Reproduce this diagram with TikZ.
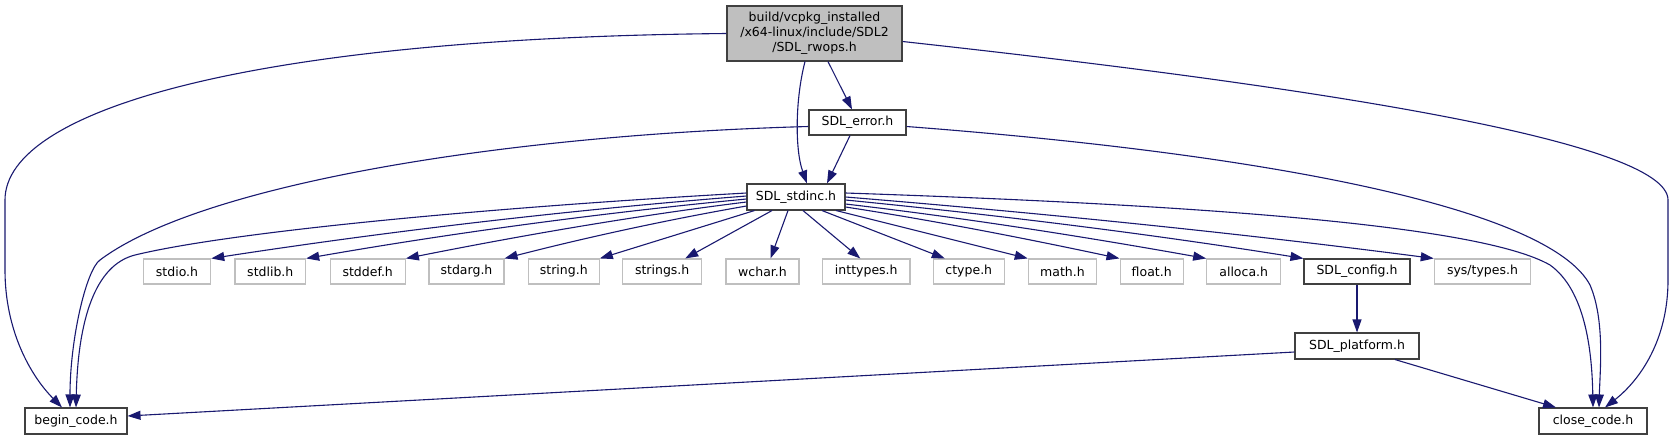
\documentclass[tikz,border=0pt]{standalone}
\usepackage{fontspec}
\setmainfont{DejaVu Sans}
\usetikzlibrary{arrows.meta,calc}
\definecolor{edgec}{HTML}{191970}
\definecolor{boxb}{HTML}{404040}
\definecolor{leafb}{HTML}{BFBFBF}
\definecolor{topfill}{HTML}{BFBFBF}
\begin{document}
\begin{tikzpicture}[x=1pt,y=-1pt,
  font=\fontsize{12.5}{15}\selectfont,
  box/.style={draw=boxb, line width=1.1pt, inner sep=0pt, minimum height=26pt, text=black},
  leaf/.style={draw=leafb, line width=1.1pt, inner sep=0pt, minimum height=25pt, text=black},
  dep/.style={draw=edgec, line width=1.1pt, -{Triangle[length=13pt,width=9pt]}}]
\fill[white] (0,0) rectangle (1675,440);
\useasboundingbox (0,0) rectangle (1675,440);

% nodes
\node[box, fill=topfill, minimum width=175pt, minimum height=55pt, align=center] (top) at (814.5,33.5)
  {build/vcpkg\_installed\\/x64-linux/include/SDL2\\/SDL\_rwops.h};
\node[box, minimum width=97pt, minimum height=25pt] (error) at (857.5,122.5) {SDL\_error.h};
\node[box, minimum width=98pt] (stdinc) at (796,197) {SDL\_stdinc.h};

\node[leaf, minimum width=67.4pt] (stdio) at (177,271.5) {stdio.h};
\node[leaf, minimum width=70.7pt] (stdlib) at (270.3,271.5) {stdlib.h};
\node[leaf, minimum width=75.3pt] (stddef) at (367.7,271.5) {stddef.h};
\node[leaf, minimum width=75pt] (stdarg) at (466.5,271.5) {stdarg.h};
\node[leaf, minimum width=71pt] (string) at (563.8,271.5) {string.h};
\node[leaf, minimum width=79pt] (strings) at (662.2,271.5) {strings.h};
\node[leaf, minimum width=73pt] (wchar) at (762.5,271.5) {wchar.h};
\node[leaf, minimum width=87.3pt] (inttypes) at (866.3,271.5) {inttypes.h};
\node[leaf, minimum width=71pt] (ctype) at (968.8,271.5) {ctype.h};
\node[leaf, minimum width=68.4pt] (math) at (1062.5,271.5) {math.h};
\node[leaf, minimum width=63.3pt] (float) at (1151.7,271.5) {float.h};
\node[leaf, minimum width=74pt] (alloca) at (1243.7,271.5) {alloca.h};
\node[box, minimum width=106pt, minimum height=25pt] (config) at (1357,271.5) {SDL\_config.h};
\node[leaf, minimum width=96.4pt] (systypes) at (1482.5,271.5) {sys/types.h};

\node[box, minimum width=124pt] (platform) at (1357,346) {SDL\_platform.h};
\node[box, minimum width=102pt] (begin) at (76,421) {begin\_code.h};
\node[box, minimum width=108pt] (close) at (1593,421) {close\_code.h};

% edges from the top node
\draw[dep] (top.west) .. controls (250,38) and (5,110) .. (5,200) -- (5,270)
  .. controls (5,330) and (30,375) .. ($(begin.north)+(-14,0)$);
\draw[dep] ($(top.east)+(0,8)$) .. controls (1300,85) and (1668,140) .. (1668,200) -- (1668,280)
  .. controls (1668,340) and (1640,380) .. ($(close.north)+(12,0)$);
\draw[dep] ($(top.south)+(13.5,0)$) -- ($(error.north)+(-5.5,0)$);
\draw[dep] ($(top.south)+(-9.5,0)$) .. controls (795,100) and (795,150) .. ($(stdinc.north)+(11,0)$);

% edges from SDL_error.h
\draw[dep] ($(error.south)+(-7.5,0)$) -- ($(stdinc.north)+(31,0)$);
\draw[dep] ($(error.west)+(0,4)$) .. controls (500,135) and (200,185) .. (100,260)
  .. controls (86,270) and (70,340) .. ($(begin.north)+(-6,0)$);
\draw[dep] ($(error.east)+(0,4)$) .. controls (1280,155) and (1550,210) .. (1590,285)
  .. controls (1605,320) and (1600,370) .. ($(close.north)+(6,0)$);

% edges from SDL_stdinc.h
\draw[dep] ($(stdinc.west)+(0,-4)$) .. controls (480,208) and (230,232) .. (135,255)
  .. controls (95,265) and (78,320) .. (begin.north);
\draw[dep] ($(stdinc.west)+(0,-1)$) .. controls (569,210) and (390,231) .. (stdio.north east);
\draw[dep] ($(stdinc.west)+(0,2)$) .. controls (600,213) and (452,233) .. (stdlib.north east);
\draw[dep] ($(stdinc.west)+(0,5)$) .. controls (633,216) and (519,236) .. (stddef.north east);
\draw[dep] ($(stdinc.west)+(0,9)$) .. controls (666,220) and (584,238) .. (stdarg.north east);
\draw[dep] ($(stdinc.south west)+(8,0)$) -- (string.north east);
\draw[dep] ($(stdinc.south)+(-24,0)$) -- ($(strings.north)+(23,0)$);
\draw[dep] ($(stdinc.south)+(-8,0)$) -- ($(wchar.north)+(8,0)$);
\draw[dep] ($(stdinc.south)+(7,0)$) -- ($(inttypes.north)+(-6,0)$);
\draw[dep] ($(stdinc.south)+(26,0)$) -- ($(ctype.north)+(-24,0)$);
\draw[dep] ($(stdinc.south)+(40,0)$) -- (math.north west);
\draw[dep] ($(stdinc.east)+(0,10)$) .. controls (937,221) and (1028,239) .. (float.north west);
\draw[dep] ($(stdinc.east)+(0,7)$) .. controls (966,218) and (1086,237) .. (alloca.north west);
\draw[dep] ($(stdinc.east)+(0,3)$) .. controls (998,215) and (1151,234) .. (config.north west);
\draw[dep] (stdinc.east) .. controls (1041,213) and (1238,233) .. (systypes.north west);
\draw[dep] ($(stdinc.east)+(0,-4)$) .. controls (1200,205) and (1480,225) .. (1550,265)
  .. controls (1585,290) and (1592,350) .. (close.north);

% lower edges
\draw[dep] (config.south) -- (platform.north);
\draw[dep] ($(platform.west)+(0,6)$) -- ($(begin.east)+(0,-5)$);
\draw[dep] ($(platform.south)+(38,0)$) -- ($(close.north)+(-37,0)$);
\end{tikzpicture}
\end{document}
